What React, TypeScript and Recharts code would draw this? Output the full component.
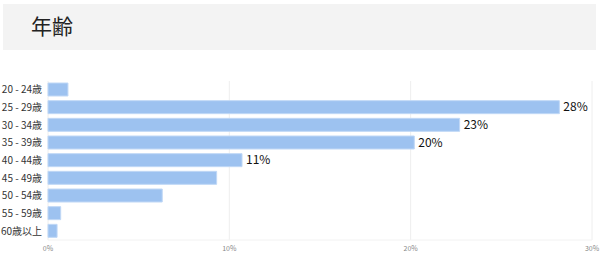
import { BarChart, Bar, XAxis, YAxis, CartesianGrid, LabelList } from "recharts";

const ageGroups = [
  "20 - 24歳",
  "25 - 29歳",
  "30 - 34歳",
  "35 - 39歳",
  "40 - 44歳",
  "45 - 49歳",
  "50 - 54歳",
  "55 - 59歳",
  "60歳以上",
];
const shares = [1.1, 28.2, 22.7, 20.2, 10.7, 9.3, 6.3, 0.7, 0.5];
const shownLabels = ["", "28%", "23%", "20%", "11%", "", "", "", ""];
const xTicks = [0, 10, 20, 30];

const font = '"Noto Sans CJK JP", "Noto Sans", sans-serif';

const chartData = ageGroups.map((name, i) => ({
  name,
  value: shares[i],
  label: shownLabels[i],
}));

// plain svg text so the category names never wrap
function AgeTick({ x, y, payload }: any) {
  return (
    <text x={x} y={y} dy={3.5} textAnchor="end" fontSize={10} fill="#333" fontFamily={font}>
      {payload.value}
    </text>
  );
}

export default function App() {
  return (
    <div style={{ position: "absolute", left: 0, top: 0, width: 600, height: 272, background: "#fff", fontFamily: font }}>
      <div
        style={{
          position: "absolute",
          left: 3,
          top: 4,
          width: 593,
          height: 46,
          background: "#f3f3f3",
        }}
      >
        <div style={{ position: "absolute", left: 28, top: 5, fontSize: 21, color: "#222", lineHeight: "32px" }}>
          年齢
        </div>
      </div>
      <div style={{ position: "absolute", left: 0, top: 70 }}>
        <BarChart
          width={600}
          height={192}
          data={chartData}
          layout="vertical"
          margin={{ top: 11, right: 8, bottom: 0, left: 0 }}
          barSize={13}
        >
          <CartesianGrid stroke="#eeeeee" horizontal={false} />
          <XAxis
            type="number"
            domain={[0, 30]}
            ticks={xTicks}
            tickFormatter={(v) => `${v}%`}
            tick={{ fontSize: 7, fill: "#888", fontFamily: font }}
            tickLine={false}
            axisLine={{ stroke: "#f2f2f2" }}
            tickSize={2}
            tickMargin={4}
            height={22}
          />
          <YAxis
            type="category"
            dataKey="name"
            width={48}
            tick={<AgeTick />}
            tickLine={false}
            axisLine={false}
            tickSize={4}
            tickMargin={2}
            interval={0}
          />
          <Bar dataKey="value" fill="#9dc2f0" stroke="#c0d8f6" strokeWidth={1} isAnimationActive={false}>
            <LabelList dataKey="label" position="right" offset={4} style={{ fontSize: 12, fill: "#111", fontFamily: font }} />
          </Bar>
        </BarChart>
      </div>
    </div>
  );
}
